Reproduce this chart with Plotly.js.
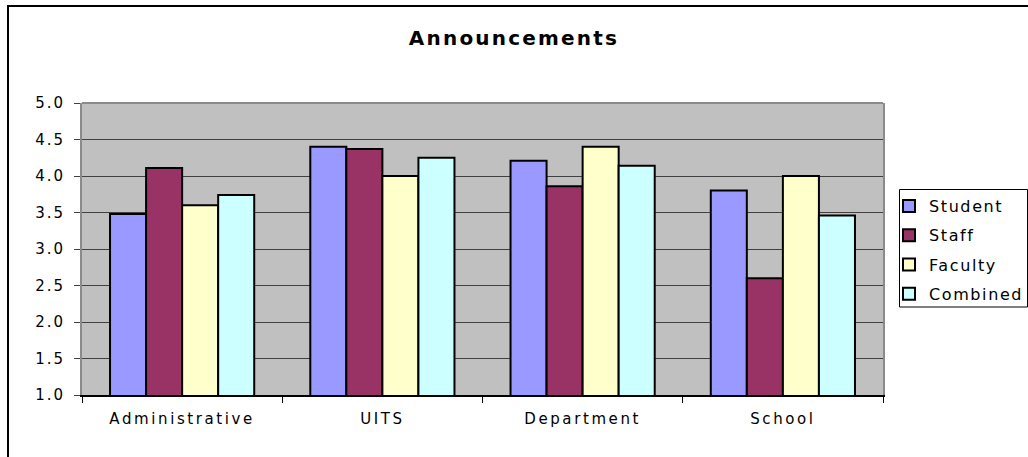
<!DOCTYPE html>
<html>
<head>
<meta charset="utf-8">
<script src="https://cdn.plot.ly/plotly-3.0.1.min.js"></script>
<style>
  html, body { margin: 0; padding: 0; background: #ffffff; }
  #chart { width: 1028px; height: 457px; }
  /* wide, airy lettering of the chart labels */
  .gtitle { letter-spacing: 2.2px; }
  .xtick text { letter-spacing: 2.6px; }
  .ytick text { letter-spacing: 2px; }
  .legendtext { letter-spacing: 1.6px; }
</style>
</head>
<body>
<div id="chart"></div>
<script>
// Survey categories along the x axis
const categories = ['Administrative', 'UITS', 'Department', 'School'];

// Mean ratings per respondent group
const student  = [3.48, 4.40, 4.21, 3.80];
const staff    = [4.11, 4.37, 3.86, 2.60];
const faculty  = [3.60, 4.00, 4.40, 4.00];
const combined = [3.74, 4.25, 4.14, 3.46];

const seriesNames  = ['Student', 'Staff', 'Faculty', 'Combined'];
const seriesValues = [student, staff, faculty, combined];
const seriesColors = ['#9999FF', '#993366', '#FFFFCC', '#CCFFFF'];

// Value axis ticks
const yTickValues = [1.0, 1.5, 2.0, 2.5, 3.0, 3.5, 4.0, 4.5, 5.0];
const yTickLabels = yTickValues.map(v => v.toFixed(1));

const FONT = 'DejaVu Sans, Verdana, sans-serif';

const traces = seriesNames.map((name, i) => ({
  type: 'bar',
  name: name,
  x: categories,
  y: seriesValues[i],
  legendgroup: name,
  marker: {
    color: seriesColors[i],
    line: { color: '#000000', width: 2 }
  },
  hoverinfo: 'x+y+name'
}));

// Plot area spans px 82..883 horizontally and 103..395 vertically
const L = 82, R = 883, T = 103, B = 395, W = 1028, H = 457;
const px = x => (x - L) / (R - L);
const py = y => (B - y) / (B - T);

const layout = {
  width: W,
  height: H,
  margin: { l: L, r: W - R, t: T, b: H - B, pad: 0, autoexpand: false },
  paper_bgcolor: '#ffffff',
  plot_bgcolor: '#C0C0C0',
  font: { family: FONT, size: 15, color: '#000000' },
  title: {
    text: '<b>Announcements</b>',
    font: { family: FONT, size: 20, color: '#000000' },
    x: 0.5, xref: 'container', xanchor: 'center',
    y: 1 - 38 / H, yref: 'container', yanchor: 'middle'
  },
  barmode: 'group',
  bargap: 0.28,
  bargroupgap: 0,
  showlegend: true,
  legend: {
    x: px(889), xanchor: 'left',
    y: py(189), yanchor: 'top',
    bgcolor: 'rgba(0,0,0,0)',
    borderwidth: 0,
    tracegroupgap: 5.5,
    traceorder: 'grouped',
    font: { family: FONT, size: 16, color: '#000000' }
  },
  xaxis: {
    type: 'category',
    showgrid: false,
    showline: true,
    linecolor: '#000000',
    linewidth: 2,
    ticks: 'outside',
    tickson: 'boundaries',
    ticklen: 6,
    tickwidth: 1,
    tickcolor: '#000000',
    ticklabelstandoff: 9,
    tickfont: { family: FONT, size: 15, color: '#000000' },
    zeroline: false,
    fixedrange: true
  },
  yaxis: {
    range: [1, 5],
    tickmode: 'array',
    tickvals: yTickValues,
    ticktext: yTickLabels,
    showgrid: true,
    gridcolor: '#404040',
    gridwidth: 1,
    showline: true,
    mirror: true,
    linecolor: '#8a8a8a',
    linewidth: 2,
    ticks: 'outside',
    ticklen: 6,
    tickwidth: 1,
    tickcolor: '#404040',
    ticklabelstandoff: 6,
    tickfont: { family: FONT, size: 15, color: '#000000' },
    zeroline: false,
    fixedrange: true
  },
  shapes: [
    // top edge of the plot frame
    { type: 'line', xref: 'paper', yref: 'paper', x0: 0, x1: 1, y0: 1, y1: 1,
      line: { color: '#8a8a8a', width: 2 } },
    // legend box
    { type: 'rect', xref: 'paper', yref: 'paper',
      x0: px(899.5), x1: px(1027.5), y0: py(307), y1: py(189.5),
      line: { color: '#000000', width: 1 }, fillcolor: 'rgba(0,0,0,0)', layer: 'below' },
    // chart area frame
    { type: 'rect', xref: 'paper', yref: 'paper',
      x0: px(8), x1: px(1032), y0: py(462), y1: py(6),
      line: { color: '#000000', width: 2 }, fillcolor: 'rgba(0,0,0,0)' }
  ]
};

Plotly.newPlot('chart', traces, layout, { displayModeBar: false, staticPlot: true });
</script>
</body>
</html>
